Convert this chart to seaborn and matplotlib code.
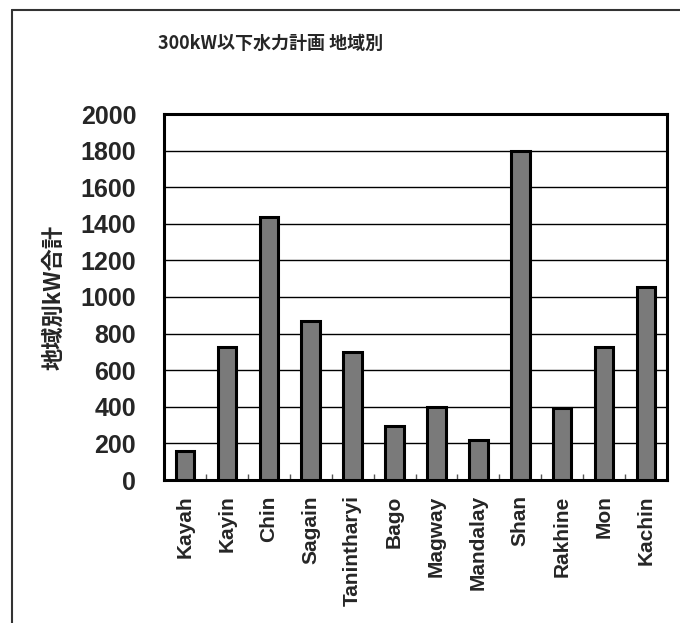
import matplotlib
matplotlib.use("Agg")
import matplotlib.pyplot as plt
from matplotlib.lines import Line2D
from matplotlib.ticker import FixedLocator
import seaborn as sns
import pandas as pd

regions = ["Kayah", "Kayin", "Chin", "Sagain", "Tanintharyi", "Bago",
           "Magway", "Mandalay", "Shan", "Rakhine", "Mon", "Kachin"]
kw_total = [160, 725, 1435, 870, 700, 295, 400, 220, 1800, 395, 725, 1055]
y_ticks = [0, 200, 400, 600, 800, 1000, 1200, 1400, 1600, 1800, 2000]

title_text = "300kW以下水力計画 地域別"
y_label = "地域別kW合計"

sns.set_theme(style="white")
plt.rcParams["font.family"] = ["Liberation Sans", "Noto Sans CJK JP", "DejaVu Sans"]

df = pd.DataFrame({"region": regions, "kw": kw_total})

fig = plt.figure(figsize=(6.8, 6.23), dpi=100)
fig.patch.set_facecolor("white")
ax = fig.add_axes([164 / 680, 1 - 480 / 623, (667 - 164) / 680, (480 - 114) / 623])

sns.barplot(data=df, x="region", y="kw", ax=ax, color="#7a7a7a", width=0.44,
            edgecolor="black", linewidth=2.2, saturation=1, zorder=3)

ax.set_ylim(0, 2000)
ax.set_xlim(-0.5, len(regions) - 0.5)
ax.set_yticks(y_ticks)
ax.set_yticklabels([str(v) for v in y_ticks], fontsize=18, fontweight="bold",
                   family=["Liberation Sans"])
ax.yaxis.grid(True, color="black", linewidth=1.0, zorder=0)
ax.set_axisbelow(True)
ax.tick_params(axis="y", length=0, pad=20)

ax.set_xticks(range(len(regions)))
ax.set_xticklabels(regions, rotation=90, fontsize=15, fontweight="bold",
                   family=["Liberation Sans"], va="top")
ax.tick_params(axis="x", which="major", length=0, pad=11)
ax.xaxis.set_minor_locator(FixedLocator([i + 0.5 for i in range(len(regions) - 1)]))
ax.tick_params(axis="x", which="minor", direction="in", length=4, width=1,
               color="#555555", bottom=True)

for s in ax.spines.values():
    s.set_visible(True)
    s.set_color("black")
    s.set_linewidth(2.2)

ax.set_xlabel("")
ax.set_ylabel(y_label, fontsize=16, fontweight="bold",
              family=["Noto Sans CJK JP", "DejaVu Sans"], labelpad=11)

fig.text(271 / 680, 1 - 43 / 623, title_text, ha="center", va="center",
         fontsize=13, fontweight="bold", family=["Noto Sans CJK JP", "DejaVu Sans"])

# outer frame: top and left edges of the chart area
fig.add_artist(Line2D([12 / 680, 12 / 680], [0, 1 - 10 / 623],
                      transform=fig.transFigure, color="#333333", linewidth=1.5))
fig.add_artist(Line2D([12 / 680, 1], [1 - 10 / 623, 1 - 10 / 623],
                      transform=fig.transFigure, color="#333333", linewidth=1.5))

fig.savefig("out.png", dpi=100, facecolor="white")
